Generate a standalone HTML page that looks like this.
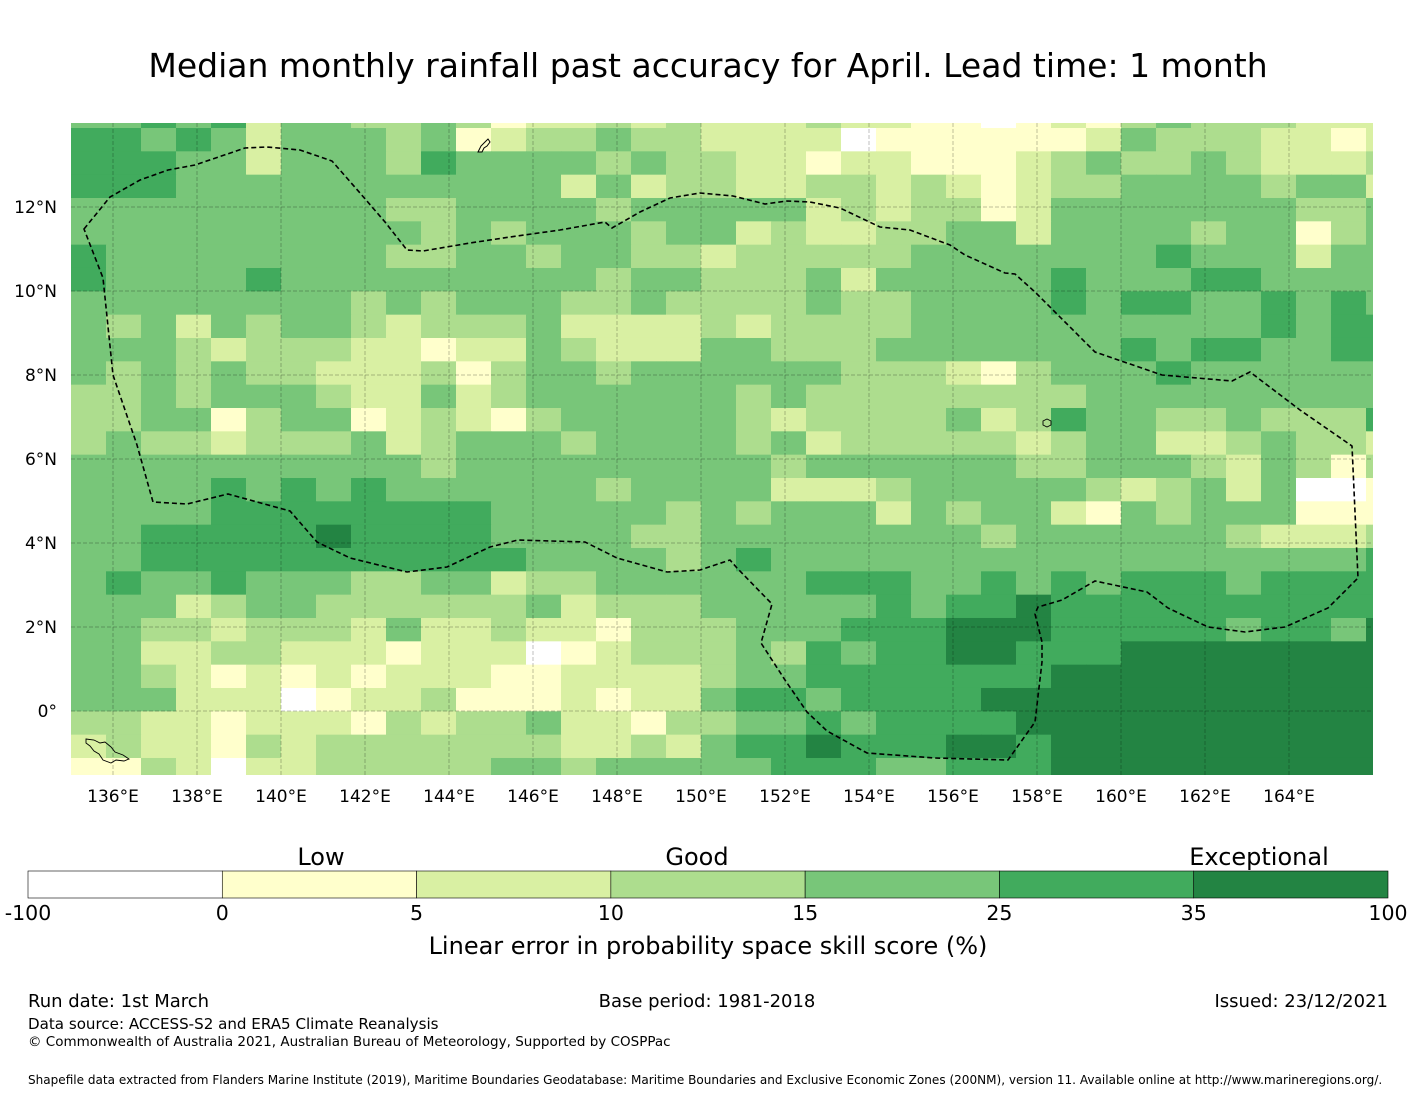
<!DOCTYPE html>
<html><head><meta charset="utf-8"><style>
html,body{margin:0;padding:0;background:#fff;width:1416px;height:1095px;overflow:hidden;font-family:"DejaVu Sans","Liberation Sans",sans-serif;}
svg{display:block}
</style></head><body>
<svg id="chart" width="1416" height="1095" viewBox="0 0 1416 1095" xmlns="http://www.w3.org/2000/svg" font-family="DejaVu Sans, Liberation Sans, sans-serif">
<text x="708" y="77" font-size="33" text-anchor="middle" fill="#000">Median monthly rainfall past accuracy for April. Lead time: 1 month</text>
<g id="map"></g>
<g id="grid"></g>
<path fill="none" stroke="#000" stroke-width="1.6" stroke-dasharray="5,3"
d="M84,229 L110,197 L140,180 L168,170 L195,165 L245,148 L267,147 L300,150 L332,161 L360,193 L385,222 L407,250 L423,251 L470,243 L510,237 L560,230 L605,222 L612,228 L640,212 L670,198 L700,193 L733,196 L765,204 L787,201 L810,202 L840,208 L880,227 L910,230 L950,245 L965,255 L1005,273 L1015,274 L1035,292 L1065,322 L1095,352 L1162,375 L1232,381 L1250,372 L1300,410 L1352,446 L1355,512 L1358,578 L1328,608 L1285,627 L1245,632 L1208,627 L1168,608 L1147,592 L1095,581 L1062,600 L1038,607 L1035,614 L1042,642 L1042,662 L1035,722 L1008,760 L935,758 L867,753 L827,731 L807,712 L785,680 L761,643 L772,604 L737,568 L730,560 L700,570 L667,572 L617,558 L585,542 L518,540 L490,547 L447,567 L407,572 L350,558 L317,542 L290,511 L228,494 L187,504 L153,502 L137,445 L113,375 L103,278 Z"/>
<path d="M478,152 l3,-6 l4,-4 l3,-3 l2,3 l-3,4 l-3,2 l-2,4 z" fill="none" stroke="#000" stroke-width="1"/>
<path d="M86,739 l8,1 l6,3 l5,-1 l6,5 l4,5 l8,3 l6,4 l-5,2 l-8,-1 l-5,3 l-8,-3 l-4,-6 l-5,-3 l-4,-5 l-4,-3 z" fill="none" stroke="#000" stroke-width="0.9"/>
<path d="M1043,421 l4,-2 l4,2 l0,4 l-4,2 l-4,-2 z" fill="none" stroke="#000" stroke-width="0.9"/>
<g id="axes" font-size="17" fill="#000"></g>
<g id="cbar"></g>
<text x="321" y="865" font-size="24" text-anchor="middle">Low</text>
<text x="697" y="865" font-size="24" text-anchor="middle">Good</text>
<text x="1259" y="865" font-size="24" text-anchor="middle">Exceptional</text>
<text x="708" y="954" font-size="24" text-anchor="middle">Linear error in probability space skill score (%)</text>
<text x="28" y="1007" font-size="18">Run date: 1st March</text>
<text x="707" y="1007" font-size="18" text-anchor="middle">Base period: 1981-2018</text>
<text x="1388" y="1007" font-size="18" text-anchor="end">Issued: 23/12/2021</text>
<text x="28" y="1029" font-size="15.1">Data source: ACCESS-S2 and ERA5 Climate Reanalysis</text>
<text x="28" y="1046" font-size="13.5">© Commonwealth of Australia 2021, Australian Bureau of Meteorology, Supported by COSPPac</text>
<text x="28" y="1084" font-size="12.05">Shapefile data extracted from Flanders Marine Institute (2019), Maritime Boundaries Geodatabase: Maritime Boundaries and Exclusive Economic Zones (200NM), version 11. Available online at http://www.marineregions.org/.</text>
</svg>
<script>
// category codes: W=-100..0, P=0..5, Y=5..10, L=10..15, M=15..25, D=25..35, X=35..100
const categories = ["W","P","Y","L","M","D","X"];
const categoryColors = ["#ffffff","#ffffcc","#d9f0a3","#addd8e","#78c679","#41ab5d","#238443"];
const colorbarTicks = ["-100","0","5","10","15","25","35","100"];
const lonTicks = [136,138,140,142,144,146,148,150,152,154,156,158,160,162,164];
const latTicks = [0,2,4,6,8,10,12];
// grid rows from north (partial top row first), each string = 38 columns west->east
const skillRows = [
"MMDMDYMMLLMLP"+"YYLYLYYYLYYP"+"PWPYPLMLLLYYY",
"DDMDMYMMMLMPY"+"LLMLLYYYYWPP"+"PPPPYMLLLYYPY",
"DDDMMYMMMLDMM"+"MMLMLLYYPYYP"+"PPYLMLLMLYYYL",
"DDDMMMMMMMMMM"+"MYMYLLYYLLYL"+"YPYLLMMMMLMMY",
"MMMMMMMMMLLMM"+"MMLMMMMMYLYL"+"LPYMMMMMMMLLM",
"MMMMMMMMMMLML"+"MMMLMMYLYYLL"+"MMYMMMMLMMPLM",
"DMMMMMMMMLLMM"+"LMMLLYLLLLLM"+"MMMMMMDMMMYMM",
"DMMMMDMMMMMMM"+"MMLMMLLLMYMM"+"MMMDMMMDDMMMM",
"MMMMMMMMLMLMM"+"MLLMLLLLMLLM"+"MMMDMDDMMDMDM",
"MLMYMLMMLYLLL"+"MYYYYLYLLLLM"+"MMMMMMMMMDMDD",
"MMMLYLLLYYPYY"+"MLYYYMMLLLMM"+"MMMMMDMDDMMDD",
"MLMLMLLYYYLPL"+"MMLMMMMMMLLL"+"YPLMMMDMMMMMM",
"LLMLMMMLYYMYL"+"MMMMMMLMLLLL"+"LLLLMMMMMMMMM",
"LLMMPLMMPYLYP"+"LMMMMMLYLLLL"+"MYLDMMLLMLLLD",
"LMLLYLLLMYLMM"+"MLMMMMLMYLLL"+"LLYLMMYYLMLLY",
"MMMMMMMMMMLMM"+"MMMMMMMLMMMM"+"MMLLMMMLYMLPL",
"MMMMDMDMDMMMM"+"MMLMMMMYYYLM"+"MMMMLYLMYMWWP",
"MMMMDDDDDDDDM"+"MMMMLMLMMMYM"+"LMMYPMLMMMPPP",
"MMDDDDDXDDDDM"+"MMMLLMMMMMMM"+"MLMMMMMMLYYYL",
"MMDDDDDDDDDDD"+"MMMMLMDMMMMM"+"MMMMMMMMMMMMD",
"MDMMDMMMLLMMY"+"LLMMMMMMDDDM"+"MDMDMDDDMDDDD",
"MMMYLMMLLLLLL"+"MYLLLMMMMMDM"+"DDXDDDDDDDDDD",
"MMLLYLLLYMYYL"+"YYPLLLMMMDDD"+"XXXDDDDDMDDMX",
"MMYYLLYYYPYYY"+"WPYLLLMLDMDD"+"XXDDDXXXXXXXX",
"MMLYPYPYPYYYP"+"PYYYYLMMDDDD"+"DDDXXXXXXXXXX",
"MMMYYYWPYYLPP"+"PYPYYMDDMDDD"+"DXXXXXXXXXXXX",
"LLYYPYYYPLYLL"+"MYYPLLMMDMDD"+"DDXXXXXXXXXXX",
"YLYYPLYLLLLLL"+"LYYLYMDDXDDD"+"XXDXXXXXXXXXX",
"PPLYWYYLLLLLM"+"MLMMMMMDDDMM"+"DDDXXXXXXXXXX"
];
const NS="http://www.w3.org/2000/svg";
const X0=71, X1=1373, Y0=123, Y1=775, PX=42;
const lonToX = lon => X0 + (lon-135)*PX;
const latToY = lat => 711 - lat*PX;
const cellW = 35/PX, cellH = 23.333/PX;
const rowNorthLat = r => (711-128)/PX - (r-1)*cellH;
function mk(tag, attrs){const e=document.createElementNS(NS,tag);for(const k in attrs)e.setAttribute(k,attrs[k]);return e;}
const map=document.getElementById('map');
skillRows.forEach((row,r)=>{
  const north = rowNorthLat(r), south = north - cellH;
  let y1 = latToY(north), y2 = latToY(south);
  y1 = Math.max(y1, Y0); y2 = Math.min(y2, Y1);
  if (y2<=y1) return;
  for(let c=0;c<row.length;c++){
    const w = lonToX(135 + c*cellW), e = lonToX(135 + (c+1)*cellW);
    const xa = Math.max(w,X0), xb = Math.min(e,X1);
    if (xb<=xa) continue;
    const idx = categories.indexOf(row[c]);
    const rect = mk('rect',{x:xa,y:y1,width:Math.min(xb-xa+0.5,X1-xa),height:Math.min(y2-y1+0.5,Y1-y1),fill:categoryColors[idx]});
    
    
    map.appendChild(rect);
  }
});
const grid=document.getElementById('grid');
lonTicks.forEach(l=>{
  const ln=mk('line',{x1:lonToX(l),x2:lonToX(l),y1:Y0,y2:Y1,stroke:'rgba(0,0,0,0.25)','stroke-width':1,'stroke-dasharray':'4,2'});
  
  
  grid.appendChild(ln);
});
latTicks.forEach(l=>{
  const ln=mk('line',{x1:X0,x2:X1,y1:latToY(l),y2:latToY(l),stroke:'rgba(0,0,0,0.25)','stroke-width':1,'stroke-dasharray':'4,2'});
  
  
  grid.appendChild(ln);
});
const axes=document.getElementById('axes');
lonTicks.forEach(l=>{
  const t=mk('text',{x:lonToX(l),y:802,'text-anchor':'middle'});
  
  
  t.textContent=l+'°E';axes.appendChild(t);
});
latTicks.forEach(l=>{
  const t=mk('text',{x:57,y:latToY(l)+6,'text-anchor':'end'});
  
  
  t.textContent=l===0?'0°':l+'°N';axes.appendChild(t);
});
const cbar=document.getElementById('cbar');
const CB0=28, CB1=1388, segW=(CB1-CB0)/categoryColors.length;
categoryColors.forEach((col,i)=>{
  const r=mk('rect',{x:CB0+i*segW,y:871,width:segW,height:27,fill:col,stroke:'#000','stroke-width':0.6});
  
  
  cbar.appendChild(r);
});
colorbarTicks.forEach((lab,i)=>{
  const t=mk('text',{x:CB0+i*segW,y:920,'text-anchor':'middle','font-size':20.5});
  
  
  t.textContent=lab;cbar.appendChild(t);
});
</script>
</body></html>
